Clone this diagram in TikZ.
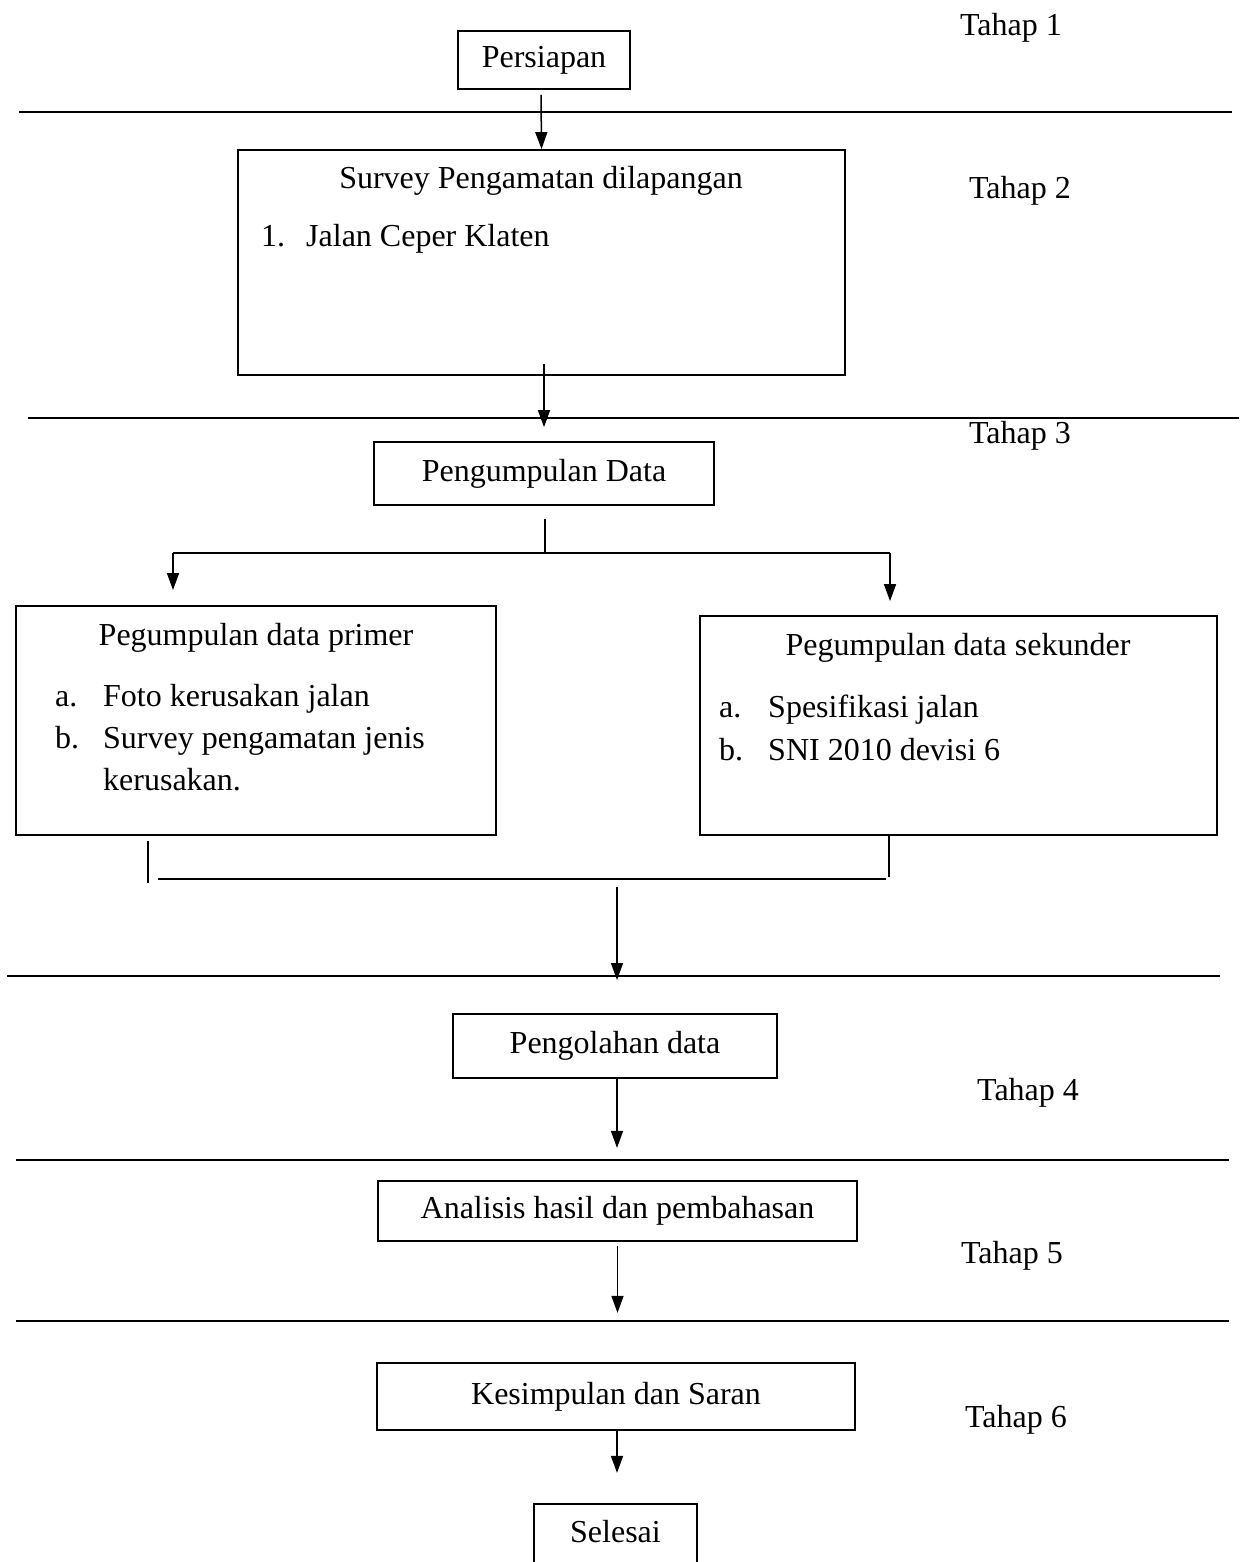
\documentclass[tikz,border=0pt]{standalone}
\usepackage{fontspec}
\setmainfont{Liberation Serif}
\usetikzlibrary{arrows.meta}
\newcommand{\myfs}{\fontsize{32}{38}\selectfont}
\begin{document}
\begin{tikzpicture}[x=1pt,y=-1pt,
  box/.style={draw,line width=1.8pt,inner sep=0pt,anchor=center,font=\myfs,text height=22pt,text depth=7pt},
  lbl/.style={inner sep=0pt,anchor=center,font=\myfs,text height=22pt,text depth=7pt},
  lft/.style={inner sep=0pt,anchor=west,font=\myfs,text height=22pt,text depth=7pt},
  sepline/.style={line width=2.6pt},
  conn/.style={line width=1.5pt},
  arr/.style={line width=1.5pt,-{Triangle[length=17pt,width=12pt]}}]
\useasboundingbox (0,0) rectangle (1239,1562);
\clip (0,0) rectangle (1239,1562);
\fill[white] (0,0) rectangle (1239,1562);

% separator lines
\draw[sepline] (19,112) -- (1232,112);
\draw[sepline] (28,418) -- (1239,418);
\draw[sepline] (7,976) -- (1220,976);
\draw[sepline] (16,1160) -- (1229,1160);
\draw[sepline] (16,1321) -- (1229,1321);

% stage labels
\node[lbl] (t1) at (1011,28) {Tahap 1};
\node[lbl] (t2) at (1020,191) {Tahap 2};
\node[lbl] (t3) at (1020,436) {Tahap 3};
\node[lbl] (t4) at (1028,1093) {Tahap 4};
\node[lbl] (t5) at (1012,1256) {Tahap 5};
\node[lbl] (t6) at (1016,1420) {Tahap 6};

% boxes
\node[box,minimum width=172pt,minimum height=58pt] (persiapan) at (544,60) {Persiapan};
\node[box,minimum width=607pt,minimum height=225pt] (survey) at (541.5,262.5) {};
\node[lbl] (surveyt) at (541,181) {Survey Pengamatan dilapangan};
\node[lft] (s1n) at (261,239) {1.};
\node[lft] (s1t) at (306,239) {Jalan Ceper Klaten};

\node[box,minimum width=340pt,minimum height=63pt] (pd) at (544,473.5) {Pengumpulan Data};

\node[box,minimum width=480pt,minimum height=229pt] (primer) at (256,720.5) {};
\node[lbl] (primert) at (256,638) {Pegumpulan data primer};
\node[lft] (pa) at (55,699) {a.};
\node[lft] (pat) at (103,699) {Foto kerusakan jalan};
\node[lft] (pb) at (55,741) {b.};
\node[lft] (pbt) at (103,741) {Survey pengamatan jenis};
\node[lft] (pbt2) at (103,783) {kerusakan.};

\node[box,minimum width=517pt,minimum height=219pt] (sekunder) at (958.5,725.5) {};
\node[lbl] (sekundert) at (958,648) {Pegumpulan data sekunder};
\node[lft] (sa) at (719,710) {a.};
\node[lft] (sat) at (768,710) {Spesifikasi jalan};
\node[lft] (sb) at (719,753) {b.};
\node[lft] (sbt) at (768,753) {SNI 2010 devisi 6};

\node[box,minimum width=324pt,minimum height=64pt] (olah) at (615,1046) {Pengolahan data};
\node[box,minimum width=479pt,minimum height=60pt] (analisis) at (617.5,1211) {Analisis hasil dan pembahasan};
\node[box,minimum width=478pt,minimum height=67pt] (kesimpulan) at (616,1396.5) {Kesimpulan dan Saran};
\node[box,minimum width=163pt,minimum height=62pt] (selesai) at (615.5,1535) {Selesai};

% connectors
\draw[arr] ([xshift=-3pt,yshift=-5pt]persiapan.south) -- (survey.north);
\draw[arr] ([xshift=2.5pt,yshift=12pt]survey.south) -- ([yshift=14pt]pd.north);

\coordinate (bl) at (173,553);
\coordinate (bm) at (545,553);
\coordinate (brr) at (890,553);
\draw[conn] ([xshift=1pt,yshift=-13pt]pd.south) -- (bm);
\draw[conn,line width=2pt] (bl) -- (brr);
\draw[arr] (bl) -- ([yshift=15pt]primer.north -| bl);
\draw[arr] (brr) -- ([yshift=14pt]sekunder.north -| brr);

\coordinate (jl1) at (148,841);
\coordinate (jl2) at (148,883);
\coordinate (jh1) at (158,879);
\coordinate (jh2) at (886,879);
\coordinate (jr2) at (889,877);
\coordinate (jd1) at (617,887);
\coordinate (jd2) at (617,980);
\draw[conn] (jl1) -- (jl2);
\draw[conn,line width=2pt] (jh1) -- (jh2);
\draw[conn] (sekunder.south -| jr2) -- (jr2);
\draw[arr] (jd1) -- (jd2);

\draw[arr] ([xshift=2pt]olah.south) -- ([xshift=2pt,yshift=-69pt]olah.south);
\draw[arr] ([yshift=-4pt]analisis.south) -- ([yshift=-71pt]analisis.south);
\draw[arr] ([xshift=1pt]kesimpulan.south) -- ([xshift=1pt,yshift=-42pt]kesimpulan.south);
\end{tikzpicture}
\end{document}
